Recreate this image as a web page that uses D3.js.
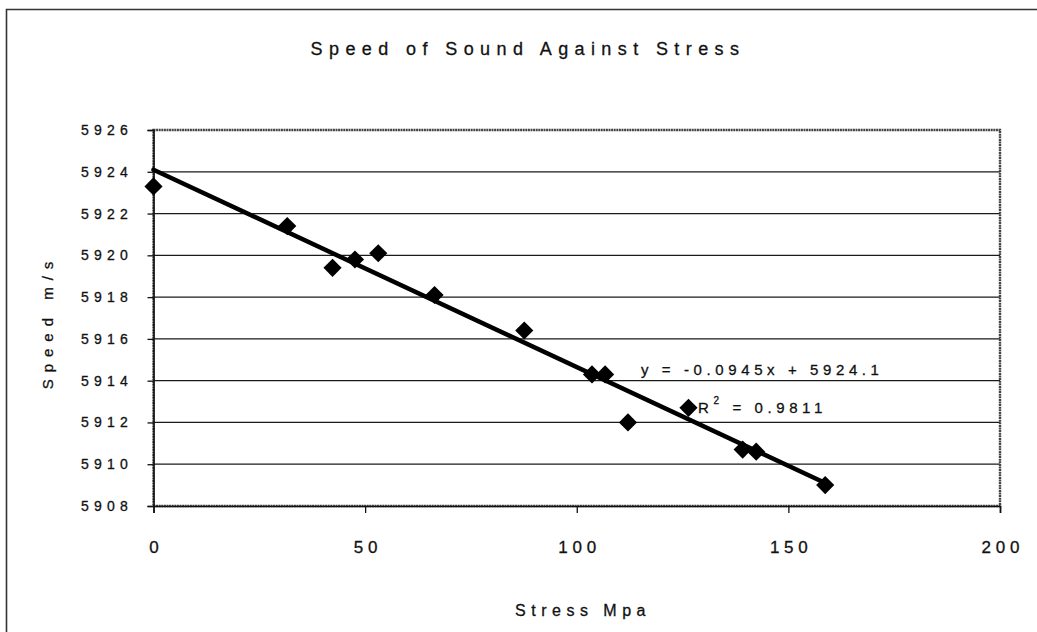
<!DOCTYPE html>
<html>
<head>
<meta charset="utf-8">
<script src="https://cdn.jsdelivr.net/npm/d3@7"></script>
<style>
  body { margin: 0; background: #fff; }
  svg text { font-family: "Liberation Sans", Arial, sans-serif; fill: #111; stroke: #111; stroke-width: 0.3; }
</style>
</head>
<body>
<svg id="chart" width="1037" height="632"></svg>
<script>
// stress (MPa) vs speed of sound (m/s)
var stress = [0, 31.6, 42.3, 47.6, 53.1, 66.4, 87.6, 103.6, 106.7, 112.1, 126.4, 139.2, 142.4, 158.7];
var speed  = [5923.3, 5921.4, 5919.4, 5919.8, 5920.1, 5918.1, 5916.4, 5914.3, 5914.3, 5912.0, 5912.7, 5910.7, 5910.6, 5909.0];
var xTicks = [0, 50, 100, 150, 200];
var yTicks = [5908, 5910, 5912, 5914, 5916, 5918, 5920, 5922, 5924, 5926];
// excel linear trendline
var slope = -0.0945;
var intercept = 5924.1;
var trendRange = [0, 158.7];
var eqText = "y = -0.0945x + 5924.1";
var r2Text = "0.9811";

const svg = d3.select("#chart");
const W = 1037, H = 632;
const m = {left: 153.5, right: 1000, top: 130, bottom: 506};

const x = d3.scaleLinear().domain([0, 200]).range([m.left, m.right]);
const y = d3.scaleLinear().domain([5908, 5926]).range([m.bottom, m.top]);

// outer chart frame (only top and left edges show in the scan)
svg.append("path")
	.attr("d", `M6.5,${H} V9.5 H${W}`)
	.attr("fill", "none").attr("stroke", "#333").attr("stroke-width", 1.6);

// title
svg.append("text")
	.attr("x", 528).attr("y", 55)
	.attr("text-anchor", "middle")
	.attr("font-size", 18).attr("letter-spacing", 6.4)
	.text("Speed of Sound Against Stress");

// gridlines
svg.append("g").selectAll("line").data(yTicks.slice(1, -1)).enter()
	.append("line")
	.attr("x1", m.left).attr("x2", m.right)
	.attr("y1", d => y(d)).attr("y2", d => y(d))
	.attr("stroke", "#1a1a1a").attr("stroke-width", 1.2);

// plot area border, grey and rough in the scan
svg.append("rect")
	.attr("x", m.left).attr("y", m.top)
	.attr("width", m.right - m.left).attr("height", m.bottom - m.top)
	.attr("fill", "none").attr("stroke", "#444").attr("stroke-width", 2.4)
	.attr("stroke-dasharray", "2,0.6");

// axes
const yAxis = d3.axisLeft(y).tickValues(yTicks).tickSize(6).tickPadding(6).tickFormat(d3.format("d"));
const xAxis = d3.axisBottom(x).tickValues(xTicks).tickSize(7).tickPadding(28).tickFormat(d3.format("d"));

const gy = svg.append("g").attr("transform", `translate(${m.left},0)`).call(yAxis);
const gx = svg.append("g").attr("transform", `translate(0,${m.bottom})`).call(xAxis);

[gx, gy].forEach(g => {
	g.select(".domain").attr("stroke", "#111").attr("stroke-width", 1.6);
	g.selectAll(".tick line").attr("stroke", "#111").attr("stroke-width", 1.3);
	g.selectAll(".tick text")
		.attr("font-family", "Liberation Sans, Arial, sans-serif").attr("fill", "#111");
});
gy.selectAll(".tick text").attr("font-size", 14).attr("letter-spacing", 5.2).attr("dx", -8.5);
gx.selectAll(".tick text").attr("font-size", 17).attr("letter-spacing", 4.7).attr("dx", 2.3);

// axis titles
svg.append("text")
	.attr("x", 583).attr("y", 616)
	.attr("text-anchor", "middle")
	.attr("font-size", 16).attr("letter-spacing", 5.5)
	.text("Stress Mpa");

svg.append("text")
	.attr("transform", "translate(53,322) rotate(-90)")
	.attr("text-anchor", "middle")
	.attr("font-size", 15).attr("letter-spacing", 7)
	.text("Speed m/s");

// trendline
const line = d3.line().x(d => x(d)).y(d => y(slope * d + intercept));
svg.append("path")
	.datum(trendRange)
	.attr("d", line)
	.attr("fill", "none").attr("stroke", "#000").attr("stroke-width", 4.5)
	.attr("stroke-linecap", "round");

// data points as diamonds
const pts = stress.map((s, i) => [s, speed[i]]);
svg.append("g").selectAll("path").data(pts).enter()
	.append("path")
	.attr("d", d3.symbol().type(d3.symbolSquare).size(165))
	.attr("transform", d => `translate(${x(d[0])},${y(d[1])}) rotate(45)`)
	.attr("fill", "#000");

// trendline equation + R squared
svg.append("text")
	.attr("x", 641).attr("y", 375)
	.attr("font-size", 15).attr("letter-spacing", 4.6)
	.text(eqText);

const r2 = svg.append("text")
	.attr("x", 698).attr("y", 413)
	.attr("font-size", 15).attr("letter-spacing", 4.6);
r2.append("tspan").text("R");
r2.append("tspan").attr("font-size", 10).attr("dy", -9).text("2");
r2.append("tspan").attr("dy", 9).text(" = " + r2Text);
</script>
</body>
</html>
